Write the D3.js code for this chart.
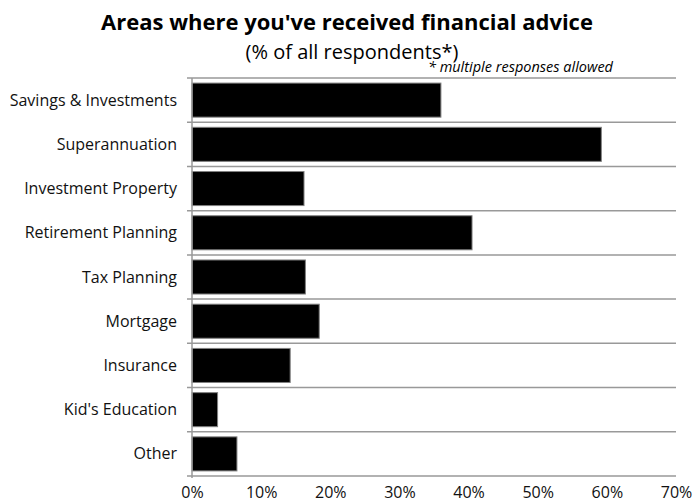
<!DOCTYPE html>
<html>
<head>
<meta charset="utf-8">
<script src="https://cdn.jsdelivr.net/npm/d3@7"></script>
<style>
  html, body { margin: 0; padding: 0; background: #fff; }
  svg { display: block; font-family: "Open Sans", "Noto Sans", sans-serif; }
</style>
</head>
<body>
<svg id="chart" width="693" height="502"></svg>
<script>
// Survey: areas where respondents received financial advice
const categories = [
  "Savings & Investments",
  "Superannuation",
  "Investment Property",
  "Retirement Planning",
  "Tax Planning",
  "Mortgage",
  "Insurance",
  "Kid's Education",
  "Other"
];
const percentages = [36.0, 59.2, 16.2, 40.5, 16.4, 18.4, 14.2, 3.7, 6.5];
const tickValues = [0, 10, 20, 30, 40, 50, 60, 70];

const W = 693, H = 502;
const margin = { top: 78, right: 17, bottom: 26, left: 192 };

const svg = d3.select("#chart");

const x = d3.scaleLinear()
  .domain([0, 70])
  .range([margin.left, W - margin.right]);

const y = d3.scaleBand()
  .domain(categories)
  .range([margin.top, H - margin.bottom])
  .paddingInner(0.23)
  .paddingOuter(0.115);

// Horizontal separators between categories
const step = y.step();
const y0 = y.range()[0];
const boundaries = d3.range(categories.length + 1).map(i => y0 + i * step);

svg.append("g")
  .selectAll("line")
  .data(boundaries)
  .join("line")
  .attr("x1", margin.left - 5)
  .attr("x2", x(70))
  .attr("y1", d => d)
  .attr("y2", d => d)
  .attr("stroke", "#999")
  .attr("stroke-width", 1.5);

// Bars
svg.append("g")
  .selectAll("rect")
  .data(categories)
  .join("rect")
  .attr("x", x(0))
  .attr("y", d => y(d))
  .attr("width", (d, i) => x(percentages[i]) - x(0))
  .attr("height", y.bandwidth())
  .attr("fill", "#000")
  .attr("stroke", "#808080")
  .attr("stroke-width", 1);

// Category axis line
svg.append("line")
  .attr("x1", x(0)).attr("x2", x(0))
  .attr("y1", y0).attr("y2", y0 + categories.length * step + 2)
  .attr("stroke", "#999")
  .attr("stroke-width", 1.5);

// Category labels
svg.append("g")
  .selectAll("text")
  .data(categories)
  .join("text")
  .attr("x", margin.left - 15)
  .attr("y", d => y(d) + y.bandwidth() / 2)
  .attr("dy", "0.35em")
  .attr("text-anchor", "end")
  .attr("font-size", 16)
  .attr("fill", "#111")
  .text(d => d);

// Value axis
const xAxis = d3.axisBottom(x)
  .tickValues(tickValues)
  .tickFormat(d => d + "%")
  .tickSize(0)
  .tickPadding(0);

const gx = svg.append("g")
  .attr("transform", `translate(0, ${H - margin.bottom})`)
  .call(xAxis);
gx.select(".domain").remove();
gx.selectAll("text")
  .attr("y", 22)
  .attr("dy", 0)
  .attr("font-size", 16)
  .attr("font-family", "'Open Sans', 'Noto Sans', sans-serif")
  .attr("fill", "#111");

// Titles
svg.append("text")
  .attr("x", 347)
  .attr("y", 30)
  .attr("text-anchor", "middle")
  .attr("font-size", 22)
  .attr("font-weight", "bold")
  .attr("fill", "#000")
  .text("Areas where you've received financial advice");

svg.append("text")
  .attr("x", 352)
  .attr("y", 59)
  .attr("text-anchor", "middle")
  .attr("font-size", 20)
  .attr("fill", "#000")
  .text("(% of all respondents*)");

svg.append("text")
  .attr("x", 613)
  .attr("y", 72)
  .attr("text-anchor", "end")
  .attr("font-size", 14.5)
  .attr("font-style", "italic")
  .attr("fill", "#000")
  .text("* multiple responses allowed");
</script>
</body>
</html>
